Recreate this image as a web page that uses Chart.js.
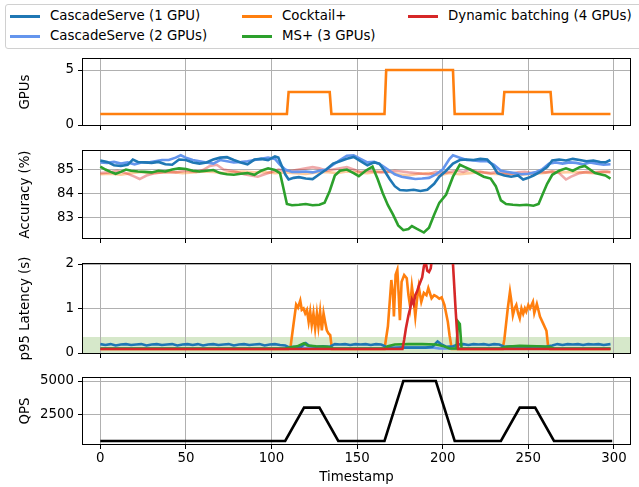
<!DOCTYPE html>
<html>
<head>
<meta charset="utf-8">
<script src="https://cdn.jsdelivr.net/npm/chart.js@4.4.1/dist/chart.umd.min.js"></script>
<style>
  body { margin: 0; background: #fff; }
  #wrap { position: relative; width: 639px; height: 487px; overflow: hidden; font-family: "DejaVu Sans", sans-serif; }
  #wrap canvas { position: absolute; left: 0; top: 0; }
  .legend { position: absolute; left: 5px; top: 4px; width: 700px; height: 45px; border: 1px solid #d0d0d0; border-radius: 3px; background: #fff; box-sizing: border-box; }
  .item { position: absolute; font-size: 13.33px; line-height: 16px; color: #000; white-space: nowrap; }
  .item i { position: absolute; width: 30px; height: 2.6px; left: -40px; top: 7px; }
</style>
</head>
<body>
<div id="wrap">
  <div class="legend"></div>
  <div class="item" style="left:50px;top:8px"><i style="background:#1f77b4"></i>CascadeServe (1 GPU)</div>
  <div class="item" style="left:50px;top:28px"><i style="background:#6495ed"></i>CascadeServe (2 GPUs)</div>
  <div class="item" style="left:282px;top:8px"><i style="background:#ff7f0e"></i>Cocktail+</div>
  <div class="item" style="left:282px;top:28px"><i style="background:#2ca02c"></i>MS+ (3 GPUs)</div>
  <div class="item" style="left:448px;top:8px"><i style="background:#d62728"></i>Dynamic batching (4 GPUs)</div>
  <canvas id="gpu" width="639" height="487"></canvas>
  <canvas id="acc" width="639" height="487"></canvas>
  <canvas id="lat" width="639" height="487"></canvas>
  <canvas id="qps" width="639" height="487"></canvas>
</div>
<script>
// ---- data ([timestamp, value]) ----
var xTicks = [0, 50, 100, 150, 200, 250, 300];

var gpuCocktail = [[0,1],[109,1],[110,3],[134,3],[135,1],[166,1],[167,5],[206,5],[207,1],[235,1],[236,3],[263,3],[264,1],[298,1]];

var accCS1 = [[0,85.38],[4,85.32],[8,85.18],[12,85.15],[16,85.2],[19,85.42],[22,85.32],[26,85.3],[30,85.28],[34,85.32],[38,85.22],[42,85.2],[46,85.42],[50,85.4],[54,85.3],[58,85.25],[62,85.3],[66,85.42],[70,85.5],[74,85.52],[78,85.4],[82,85.3],[86,85.22],[90,85.42],[94,85.45],[98,85.4],[102,85.55],[104,85.5],[106,85.15],[108,84.8],[110,84.58],[113,84.65],[116,84.68],[120,84.62],[124,84.6],[128,84.8],[132,85.0],[136,85.25],[140,85.35],[144,85.45],[148,85.53],[152,85.35],[156,85.18],[160,85.3],[163,85.25],[166,84.95],[169,84.6],[172,84.3],[175,84.14],[179,84.12],[183,84.15],[187,84.1],[191,84.15],[195,84.4],[198,84.7],[202,84.95],[206,85.25],[210,85.4],[214,85.42],[218,85.4],[222,85.45],[226,85.42],[229,85.2],[232,84.85],[236,84.75],[240,84.7],[244,84.75],[247,84.58],[250,84.65],[253,84.75],[257,84.9],[261,85.1],[264,85.38],[268,85.42],[272,85.38],[276,85.45],[280,85.4],[284,85.35],[288,85.38],[292,85.32],[295,85.3],[298,85.4]];

var accCS2 = [[0,85.3],[4,85.28],[8,85.32],[12,85.25],[16,85.3],[20,85.22],[24,85.3],[28,85.3],[32,85.35],[36,85.4],[40,85.4],[44,85.5],[47,85.6],[50,85.5],[54,85.4],[58,85.35],[62,85.3],[66,85.25],[70,85.4],[74,85.35],[78,85.3],[82,85.32],[86,85.35],[90,85.4],[94,85.45],[98,85.5],[102,85.45],[105,85.2],[108,85.0],[112,84.9],[116,84.9],[120,84.92],[124,84.88],[128,84.95],[132,85.0],[136,85.2],[140,85.4],[144,85.58],[148,85.6],[152,85.45],[156,85.3],[160,85.32],[164,85.2],[168,85.0],[172,84.8],[176,84.7],[180,84.65],[184,84.6],[188,84.62],[192,84.65],[196,84.8],[200,85.0],[204,85.45],[206,85.6],[210,85.5],[214,85.4],[218,85.38],[222,85.35],[226,85.35],[230,85.2],[234,84.95],[238,84.9],[242,84.85],[246,84.8],[250,84.82],[254,84.88],[258,85.0],[262,85.25],[266,85.3],[270,85.25],[274,85.3],[278,85.28],[282,85.22],[286,85.3],[290,85.25],[294,85.2],[298,85.22]];

var accCocktail = [[0,84.8],[6,84.82],[12,84.78],[18,84.85],[24,84.9],[30,84.85],[36,84.88],[42,84.9],[48,84.85],[54,84.88],[60,84.92],[66,84.9],[72,84.85],[78,84.9],[84,84.92],[90,84.88],[96,84.9],[102,84.85],[108,84.88],[114,84.85],[120,84.82],[126,84.88],[132,84.9],[138,84.85],[144,84.92],[150,84.88],[156,84.85],[162,84.9],[168,84.92],[174,84.8],[180,84.75],[186,84.82],[192,84.85],[198,84.75],[204,84.85],[210,84.8],[216,84.85],[222,84.9],[228,84.82],[234,84.8],[240,84.85],[246,84.78],[252,84.82],[258,84.85],[264,84.9],[270,84.88],[276,84.9],[282,84.88],[288,84.85],[294,84.9],[298,84.88]];

var accMS = [[0,85.12],[3,85.0],[6,84.9],[9,84.82],[12,84.9],[15,85.0],[18,84.95],[22,84.92],[26,84.9],[30,84.88],[34,84.95],[38,84.92],[42,85.0],[46,85.05],[50,85.02],[54,84.95],[58,84.92],[62,84.95],[66,84.98],[70,84.85],[74,84.8],[78,84.78],[82,84.82],[86,84.85],[90,84.78],[94,84.95],[98,85.05],[102,84.98],[105,84.85],[107,84.2],[109,83.55],[112,83.5],[116,83.52],[120,83.55],[124,83.5],[128,83.52],[131,83.6],[134,84.1],[137,84.75],[140,84.95],[144,85.0],[148,84.85],[151,84.72],[155,84.95],[159,85.12],[162,84.6],[165,84.0],[168,83.5],[171,83.1],[174,82.65],[177,82.45],[180,82.5],[182,82.62],[185,82.5],[189,82.35],[192,82.55],[195,83.1],[198,83.6],[202,83.95],[206,84.7],[210,85.2],[213,85.1],[216,85.0],[220,84.85],[224,84.7],[228,84.62],[231,84.3],[234,83.7],[237,83.55],[241,83.52],[245,83.5],[249,83.52],[253,83.48],[256,83.55],[258,83.9],[261,84.4],[264,84.78],[268,84.95],[272,85.05],[276,84.95],[280,85.1],[283,85.15],[286,85.0],[289,84.85],[292,84.8],[295,84.75],[298,84.62]];

var accDyn = [[0,84.85],[5,84.88],[10,84.95],[15,84.85],[20,84.7],[23,84.6],[27,84.75],[32,84.85],[38,84.9],[44,84.88],[50,84.95],[56,84.9],[60,84.98],[64,85.15],[68,85.2],[72,85.0],[76,84.95],[80,84.9],[84,84.8],[88,84.75],[92,84.7],[96,84.8],[100,84.9],[104,85.0],[108,84.95],[112,84.95],[116,85.0],[120,85.05],[124,85.1],[128,85.05],[132,84.95],[136,85.0],[140,85.05],[144,85.1],[148,85.0],[152,84.9],[156,84.95],[160,84.92],[164,84.88],[168,84.9],[172,84.95],[176,84.92],[180,84.88],[184,84.85],[188,84.82],[192,84.8],[196,84.9],[200,84.85],[204,84.9],[208,84.95],[212,84.9],[216,85.0],[220,84.92],[224,84.88],[228,84.85],[232,84.9],[236,84.85],[240,84.82],[244,84.88],[248,84.9],[252,84.85],[256,84.9],[260,84.88],[264,84.92],[268,84.85],[272,84.58],[275,84.7],[280,84.85],[284,84.9],[288,84.88],[292,84.9],[296,84.92],[298,84.9]];

var latCS1 = [[0,.2],[3,.18],[6,.2],[9,.17],[12,.19],[15,.2],[18,.18],[21,.19],[24,.2],[27,.17],[30,.19],[33,.2],[36,.18],[39,.19],[42,.2],[45,.17],[48,.19],[51,.2],[54,.18],[57,.2],[60,.17],[63,.19],[66,.2],[69,.18],[72,.19],[75,.2],[78,.17],[81,.19],[84,.2],[87,.18],[90,.19],[93,.2],[96,.17],[99,.19],[102,.2],[105,.18],[108,.17],[110,.13],[113,.14],[117,.13],[120,.22],[122,.16],[126,.14],[130,.15],[134,.14],[137,.2],[140,.19],[143,.2],[146,.18],[149,.2],[152,.19],[155,.2],[158,.18],[161,.2],[164,.19],[167,.14],[171,.11],[175,.12],[180,.12],[185,.12],[190,.12],[194,.14],[197,.26],[199,.2],[202,.14],[206,.15],[209,.19],[212,.2],[215,.18],[218,.2],[221,.19],[224,.2],[227,.18],[230,.2],[233,.19],[236,.14],[240,.15],[245,.15],[250,.14],[255,.15],[260,.14],[264,.17],[267,.2],[270,.18],[273,.2],[276,.19],[279,.2],[282,.18],[285,.2],[288,.19],[291,.2],[294,.18],[298,.2]];

var latCS2 = [[0,.1],[108,.1],[110,.11],[135,.11],[137,.1],[167,.1],[170,.12],[195,.12],[198,.1],[235,.1],[238,.11],[262,.11],[265,.1],[298,.1]];

var latCocktail = [[0,.09],[110,.09],[111,.1],[112.8,.63],[114.4,1.09],[115.5,1.02],[116.8,1.18],[117.7,.97],[118.7,1.0],[119.7,.89],[120.7,.97],[121.7,.7],[122.6,.93],[123.5,.63],[124.5,.89],[125.5,.55],[126.5,.89],[127.4,.59],[128.4,.93],[129.4,.51],[130.4,.89],[131.3,.7],[132.3,.51],[133.3,.44],[134.3,.4],[135.3,.09],[166,.09],[168,.6],[170,1.64],[171,1.3],[171.5,.82],[172.5,1.76],[173.5,1.87],[174.3,1.3],[175,.74],[176,1.6],[177.5,1.75],[179,1.68],[180,1.3],[181,1.04],[182,1.5],[183,1.2],[184,.82],[185,1.2],[186,1.49],[187.5,1.15],[189,1.35],[190.5,1.3],[191.6,1.46],[193.5,1.23],[195,1.3],[196.5,1.27],[198,1.22],[199.4,1.25],[201,1.08],[203,.7],[204,.4],[205.3,.09],[235,.09],[236,.3],[238,1.0],[239.3,1.38],[240,1.2],[241,.85],[242,1.0],[243,1.08],[244,.9],[245,.78],[246,1.0],[247,.88],[248,1.0],[248.8,.93],[250,1.08],[251,1.0],[252.7,1.15],[253.5,.9],[255,1.1],[256,.95],[256.8,.82],[258.7,.66],[260.6,.5],[261.6,.14],[262.5,.09],[298,.09]];

var latMS = [[0,.1],[108,.1],[110,.12],[115,.15],[119,.22],[121,.17],[126,.15],[133,.14],[136,.1],[166,.1],[168,.15],[172,.19],[180,.2],[188,.2],[196,.19],[200,.16],[204,.1],[208,.1],[209,.7],[210,.65],[211,.1],[234,.1],[237,.14],[245,.16],[255,.15],[262,.14],[265,.1],[298,.1]];

var latDyn = [[0,.09],[176.5,.09],[177.5,.3],[178.5,.55],[180,.85],[181,1.0],[182,1.2],[183,1.1],[184,1.3],[185,1.38],[186,1.5],[187,1.6],[188,1.7],[189,1.95],[190,2.05],[191,1.85],[192,1.82],[193,1.9],[194,2.2],[196,3],[205,3],[206,2.0],[207.5,1.0],[209,.09],[298,.09]];

var qpsLoad = [[0,500],[108,500],[119,3000],[128,3000],[139,500],[166,500],[177,5000],[196,5000],[207,500],[234,500],[245,3000],[254,3000],[265,500],[299,500]];

// ---- charts ----
var H = 487;
var LW = 2.6;
Chart.defaults.font.family = '"DejaVu Sans", sans-serif';
Chart.defaults.font.size = 13.33;
Chart.defaults.color = '#000';

var frame = {
    id: 'frame',
    afterDraw: function(chart) {
        var a = chart.chartArea, ctx = chart.ctx;
        ctx.save();
        ctx.strokeStyle = '#000';
        ctx.lineWidth = 1;
        ctx.strokeRect(Math.round(a.left) - 0.5, Math.round(a.top) - 0.5, Math.round(a.right - a.left) + 1, Math.round(a.bottom - a.top) + 1);
        ctx.restore();
    }
};

var sloBand = {
    id: 'sloBand',
    beforeDraw: function(chart) {
        var a = chart.chartArea, y = chart.scales.y, ctx = chart.ctx;
        var top = y.getPixelForValue(0.36), bot = y.getPixelForValue(0);
        ctx.save();
        ctx.fillStyle = 'rgb(214,232,202)';
        ctx.fillRect(a.left, top, a.right - a.left, bot - top);
        ctx.restore();
    }
};

function pts(arr) {
    return arr.map(function(p) { return {x: p[0], y: p[1]}; });
}

function line(arr, color, order) {
    return {data: pts(arr), borderColor: color, borderWidth: LW, pointRadius: 0, fill: false, tension: 0, order: order};
}

function tickList(list) {
    return function(s) { s.ticks = list.map(function(v) { return {value: v}; }); };
}

var gridOpts = {color: '#b0b0b0', lineWidth: 1, tickColor: '#000', tickWidth: 1, tickLength: 5};

function panel(id, top, bottom, xH, datasets, y, showX, extra) {
    new Chart(document.getElementById(id), {
        type: 'line',
        data: {datasets: datasets},
        options: {
            responsive: false,
            animation: false,
            layout: {padding: {left: 0, right: 9, top: top, bottom: H - bottom - xH}},
            plugins: {legend: {display: false}, tooltip: {enabled: false}},
            scales: {
                x: {
                    type: 'linear', min: -10.1, max: 309.4,
                    afterBuildTicks: tickList(xTicks),
                    afterFit: function(s) { s.height = xH; },
                    grid: gridOpts,
                    border: {display: false},
                    ticks: {display: showX, padding: 2, maxRotation: 0, autoSkip: false, callback: function(v) { return String(v); }},
                    title: {display: showX, text: 'Timestamp', padding: {top: 0, bottom: 1}}
                },
                y: {
                    min: y.min, max: y.max,
                    afterBuildTicks: tickList(y.ticks),
                    afterFit: function(s) { s.width = 83; },
                    grid: gridOpts,
                    border: {display: false},
                    ticks: {padding: 4, autoSkip: false, callback: function(v) { return String(v); }},
                    title: {display: true, text: y.title, padding: {top: 18, bottom: 0}}
                }
            }
        },
        plugins: [frame].concat(extra || [])
    });
}

panel('gpu', 59, 125, 6, [
    line(gpuCocktail, '#ff7f0e', 0)
], {min: 0, max: 6, ticks: [0, 5], title: 'GPUs'}, false);

panel('acc', 151, 238, 6, [
    line(accCS1, '#1f77b4', 1),
    line(accCS2, '#6495ed', 2),
    line(accCocktail, 'rgba(255,127,14,0.4)', 4),
    line(accMS, '#2ca02c', 0),
    line(accDyn, 'rgba(214,39,40,0.4)', 3)
], {min: 82.12, max: 85.78, ticks: [83, 84, 85], title: 'Accuracy (%)'}, false);

panel('lat', 264, 353, 6, [
    line(latCS1, '#1f77b4', 2),
    line(latCS2, '#6495ed', 3),
    line(latCocktail, '#ff7f0e', 4),
    line(latMS, '#2ca02c', 1),
    line(latDyn, '#d62728', 0)
], {min: 0, max: 2, ticks: [0, 1, 2], title: 'p95 Latency (s)'}, false, [sloBand]);

panel('qps', 378, 444, 43, [
    line(qpsLoad, '#000', 0)
], {min: 275, max: 5225, ticks: [2500, 5000], title: 'QPS'}, true);
</script>
</body>
</html>
